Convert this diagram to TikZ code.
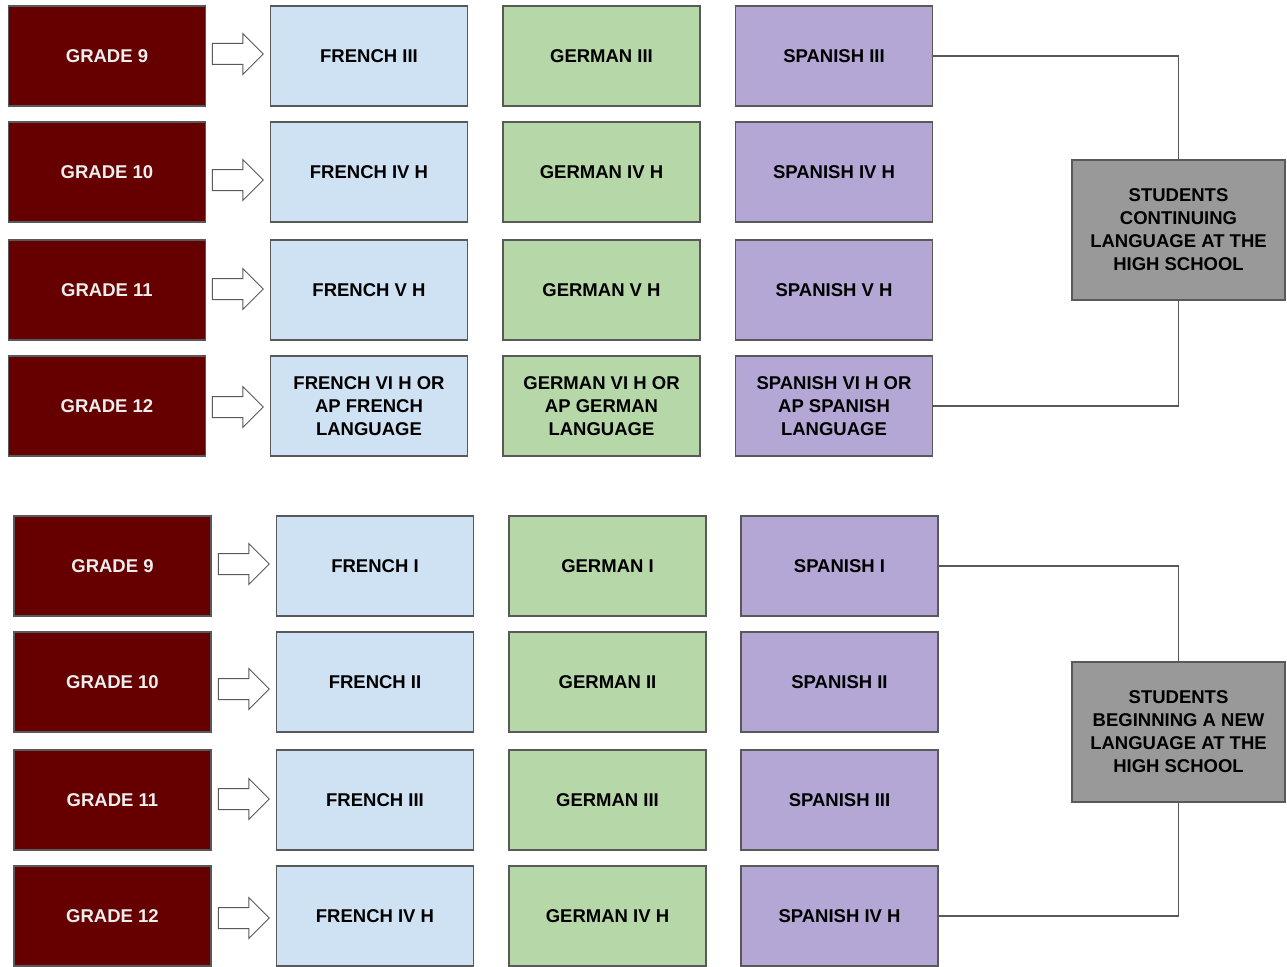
\documentclass[tikz,border=0pt]{standalone}
\usepackage{fontspec}
\setmainfont{Liberation Sans}
\usetikzlibrary{shapes.arrows}
\definecolor{grade}{HTML}{660000}
\definecolor{gradetxt}{HTML}{EEEEEE}
\definecolor{fr}{HTML}{CFE2F3}
\definecolor{ge}{HTML}{B6D7A8}
\definecolor{sp}{HTML}{B4A7D6}
\definecolor{gr}{HTML}{999999}
\definecolor{edge}{HTML}{595959}
\tikzset{
  x=1pt, y=-1pt,
  box/.style={draw=edge, line width=1.6pt, minimum width=197pt, minimum height=100pt, inner sep=2pt, align=center,
    font=\fontsize{18.5}{23}\selectfont\bfseries},
  gradebox/.style={box, fill=grade, text=gradetxt},
  frbox/.style={box, fill=fr, text=black},
  gebox/.style={box, fill=ge, text=black},
  spbox/.style={box, fill=sp, text=black},
  graybox/.style={box, fill=gr, text=black, minimum width=213pt, minimum height=140pt},
  blockarrow/.style={single arrow, draw=edge, fill=white, line width=1pt, minimum height=51pt,
    single arrow head extend=10pt, inner xsep=0pt, inner ysep=10pt, shape border rotate=0},
  link/.style={draw=edge, line width=1.4pt}
}
\begin{document}
\begin{tikzpicture}
\useasboundingbox (0,0) rectangle (1287,966);
% ---------- top block ----------
\node[gradebox] (g9a)  at (107,56)  {GRADE 9};
\node[gradebox] (g10a) at (107,172) {GRADE 10};
\node[gradebox] (g11a) at (107,290) {GRADE 11};
\node[gradebox] (g12a) at (107,406) {GRADE 12};
\node[blockarrow] (a9a)  at (232.5,54)  {};
\node[blockarrow] (a10a) at (232.5,180) {};
\node[blockarrow] (a11a) at (232.5,289) {};
\node[blockarrow] (a12a) at (232.5,407) {};
\node[frbox] (f1a) at (369,56)  {FRENCH III};
\node[frbox] (f2a) at (369,172) {FRENCH IV H};
\node[frbox] (f3a) at (369,290) {FRENCH V H};
\node[frbox] (f4a) at (369,406) {FRENCH VI H OR\\AP FRENCH\\LANGUAGE};
\node[gebox] (d1a) at (601.5,56)  {GERMAN III};
\node[gebox] (d2a) at (601.5,172) {GERMAN IV H};
\node[gebox] (d3a) at (601.5,290) {GERMAN V H};
\node[gebox] (d4a) at (601.5,406) {GERMAN VI H OR\\AP GERMAN\\LANGUAGE};
\node[spbox] (s1a) at (834,56)  {SPANISH III};
\node[spbox] (s2a) at (834,172) {SPANISH IV H};
\node[spbox] (s3a) at (834,290) {SPANISH V H};
\node[spbox] (s4a) at (834,406) {SPANISH VI H OR\\AP SPANISH\\LANGUAGE};
\node[graybox] (ca) at (1178.5,230) {STUDENTS\\CONTINUING\\LANGUAGE AT THE\\HIGH SCHOOL};
\draw[link] (s1a.east) -| (ca.north);
\draw[link] (ca.south) |- (s4a.east);
% ---------- bottom block ----------
\node[gradebox] (g9b)  at (112.5,566) {GRADE 9};
\node[gradebox] (g10b) at (112.5,682) {GRADE 10};
\node[gradebox] (g11b) at (112.5,800) {GRADE 11};
\node[gradebox] (g12b) at (112.5,916) {GRADE 12};
\node[blockarrow] (a9b)  at (238.5,564) {};
\node[blockarrow] (a10b) at (238.5,689) {};
\node[blockarrow] (a11b) at (238.5,799) {};
\node[blockarrow] (a12b) at (238.5,918) {};
\node[frbox] (f1b) at (375,566) {FRENCH I};
\node[frbox] (f2b) at (375,682) {FRENCH II};
\node[frbox] (f3b) at (375,800) {FRENCH III};
\node[frbox] (f4b) at (375,916) {FRENCH IV H};
\node[gebox] (d1b) at (607.5,566) {GERMAN I};
\node[gebox] (d2b) at (607.5,682) {GERMAN II};
\node[gebox] (d3b) at (607.5,800) {GERMAN III};
\node[gebox] (d4b) at (607.5,916) {GERMAN IV H};
\node[spbox] (s1b) at (839.5,566) {SPANISH I};
\node[spbox] (s2b) at (839.5,682) {SPANISH II};
\node[spbox] (s3b) at (839.5,800) {SPANISH III};
\node[spbox] (s4b) at (839.5,916) {SPANISH IV H};
\node[graybox] (cb) at (1178.5,732) {STUDENTS\\BEGINNING A NEW\\LANGUAGE AT THE\\HIGH SCHOOL};
\draw[link] (s1b.east) -| (cb.north);
\draw[link] (cb.south) |- (s4b.east);
\end{tikzpicture}
\end{document}
